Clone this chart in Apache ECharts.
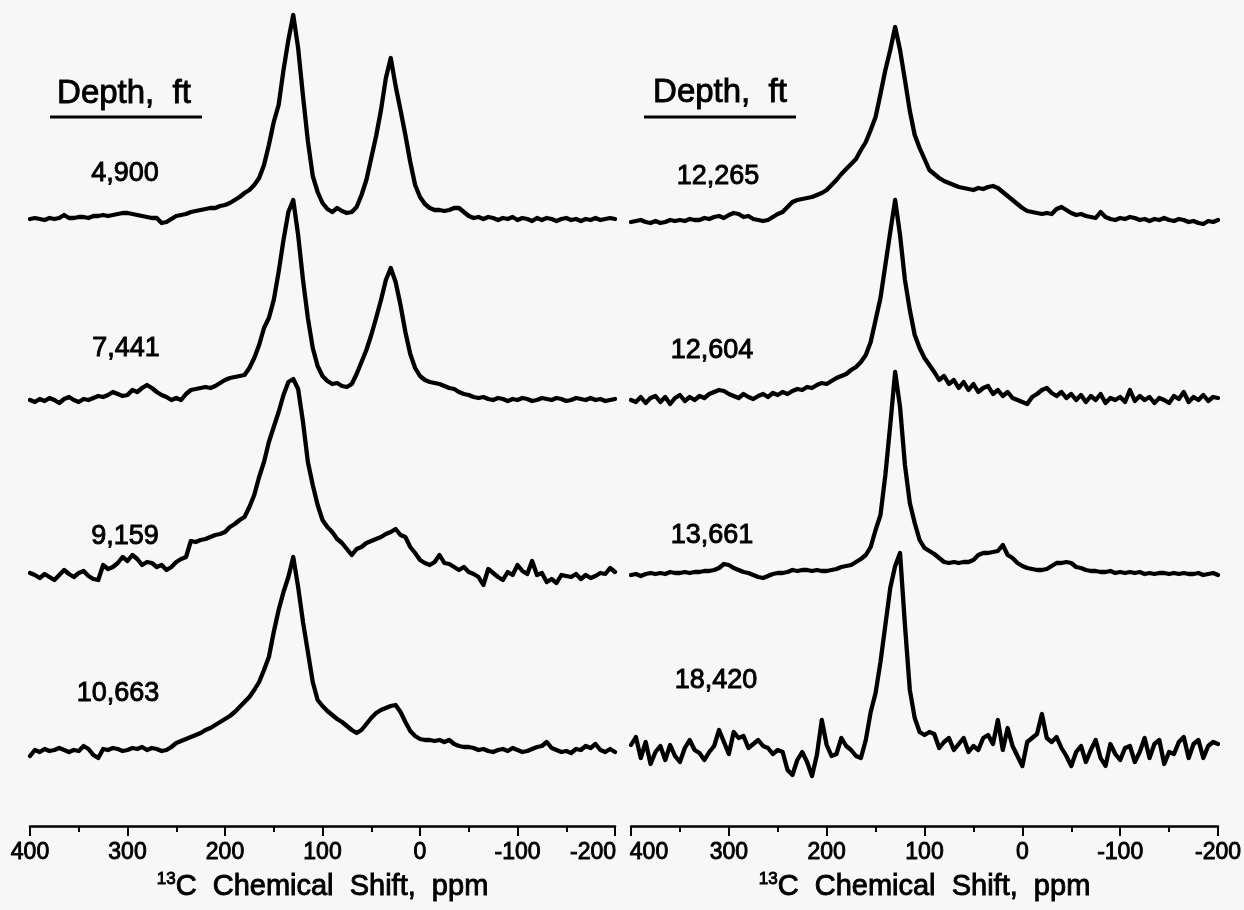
<!DOCTYPE html>
<html>
<head>
<meta charset="utf-8">
<title>13C NMR spectra vs depth</title>
<script src="https://cdn.jsdelivr.net/npm/echarts@6/dist/echarts.min.js"></script>
<style>
  html, body { margin: 0; padding: 0; background: #f7f7f7; }
  #chart { width: 1244px; height: 910px; }
</style>
</head>
<body>
<div id="chart"></div>
<script>
// Chemical shift sampling grid (ppm), 400 -> -200 in 5 ppm steps
const shifts = [];
for (let p = 400; p >= -200; p -= 5) shifts.push(p);

// Tick values on the shift axis
const shiftTicks = [400, 300, 200, 100, 0, -100, -200];

// Depth labels (ft) for each panel, top to bottom
const leftDepths = ['4,900', '7,441', '9,159', '10,663'];
const rightDepths = ['12,265', '12,604', '13,661', '18,420'];

// Signal intensity (a.u., above each trace's baseline) at every shift in `shifts`
const depth4900 = [
  1, 2, 1, 0, 2, 1, 2, 5, 2, 2,
  3, 3, 2, 4, 4, 5, 4, 5, 6, 7,
  7, 6, 5, 4, 3, 2, 2, -3, -2, 1,
  4, 5, 6, 8, 9, 10, 11, 12, 12, 14,
  15, 17, 20, 23, 27, 30, 35, 42, 55, 75,
  98, 115, 150, 180, 205, 172, 124, 79, 44, 28,
  17, 11, 8, 12, 9, 7, 8, 13, 25, 40,
  62, 84, 110, 142, 162, 134, 110, 85, 58, 35,
  23, 16, 12, 10, 10, 9, 10, 12, 12, 8,
  4, 2, 3, 1, 3, 2, 0, 2, 1, 3,
  0, 2, 1, -1, 2, 0, 2, 1, -1, 1,
  2, 0, 1, -1, 1, 0, 2, 0, 1, 2,
  1
];
const depth7441 = [
  0, -2, 1, -1, 2, 0, -3, 1, 3, 0,
  -2, 1, 0, 2, 4, 3, 5, 8, 6, 4,
  5, 10, 8, 12, 15, 12, 8, 5, 3, 0,
  2, 0, 6, 10, 11, 12, 13, 12, 14, 17,
  20, 22, 23, 24, 25, 32, 42, 55, 72, 82,
  100, 128, 160, 188, 200, 165, 120, 82, 52, 34,
  24, 19, 16, 17, 14, 13, 16, 26, 38, 50,
  65, 82, 100, 120, 132, 118, 95, 68, 46, 32,
  24, 20, 18, 17, 16, 14, 12, 11, 8, 6,
  5, 3, 2, 3, 1, 0, 2, 1, -1, 1,
  0, 2, 1, -1, 0, 2, 1, 0, 2, 1,
  -1, 0, 2, 1, 0, 2, 0, 1, -1, 0,
  1
];
const depth9159 = [
  4, 2, -1, 3, 0, -3, 2, 7, 3, 0,
  4, 6, 1, -2, -3, 12, 8, 10, 14, 20,
  16, 22, 18, 12, 15, 14, 10, 12, 7, 10,
  15, 18, 20, 36, 35, 37, 38, 40, 42, 43,
  45, 50, 53, 57, 60, 70, 82, 100, 115, 135,
  150, 165, 182, 195, 198, 188, 155, 115, 92, 72,
  57, 50, 45, 38, 34, 28, 22, 28, 30, 34,
  36, 38, 40, 43, 45, 48, 42, 40, 30, 24,
  17, 14, 12, 15, 22, 14, 13, 10, 7, 10,
  5, 3, 0, -8, 8, 4, 0, -3, 5, 2,
  12, 6, 3, 16, 2, 4, -5, -2, -6, 2,
  1, 0, 3, -2, 2, -1, 1, 4, 3, 9,
  5
];
const depth10663 = [
  -4, 2, 0, 3, 1, 2, 4, 2, 0, 2,
  1, 6, 3, -3, -6, 3, 2, 4, 3, 1,
  2, 4, 3, 5, 2, 4, 3, 1, 2, 5,
  9, 11, 13, 15, 17, 19, 22, 24, 27, 30,
  33, 36, 40, 45, 50, 55, 62, 70, 82, 95,
  120, 142, 160, 175, 195, 165, 130, 100, 70, 52,
  46, 41, 37, 33, 30, 26, 22, 19, 22, 28,
  34, 39, 42, 44, 46, 47, 40, 30, 21, 16,
  13, 12, 12, 11, 12, 10, 12, 8, 6, 5,
  5, 4, 2, 3, 1, 0, 2, 3, 1, 4,
  2, 0, 1, 3, 5, 6, 10, 4, 2, 0,
  1, -1, 3, 2, 6, 4, 8, 2, 0, 3,
  0
];
const depth12265 = [
  0, 1, 2, 0, -1, 1, -1, 0, 2, 1,
  2, 1, 3, 2, 2, 4, 3, 5, 6, 4,
  7, 9, 8, 5, 6, 3, 2, 1, 2, 5,
  8, 10, 15, 20, 22, 23, 24, 25, 27, 29,
  32, 37, 42, 48, 53, 58, 63, 72, 80, 92,
  105, 128, 152, 172, 195, 172, 142, 111, 87, 74,
  63, 52, 48, 44, 41, 39, 37, 35, 34, 33,
  32, 34, 33, 35, 36, 34, 30, 26, 22, 18,
  14, 11, 10, 9, 8, 9, 8, 13, 15, 12,
  9, 7, 8, 6, 5, 4, 10, 5, 3, 2,
  4, 3, 5, 4, 2, 3, 1, 3, 2, 4,
  2, 1, 3, 2, 0, 1, -1, -2, 1, 0,
  2
];
const depth12604 = [
  0, -2, 3, -3, 2, 4, -2, 3, -4, 2,
  5, -1, 3, 0, 4, 2, 6, 8, 10, 9,
  6, 4, 2, 6, 3, 1, 4, 6, 3, 7,
  5, 8, 6, 9, 11, 10, 13, 12, 15, 17,
  16, 19, 22, 24, 26, 30, 33, 38, 45, 58,
  80, 102, 135, 168, 200, 165, 120, 90, 65, 52,
  42, 35, 28, 20, 24, 16, 20, 12, 18, 10,
  16, 8, 12, 14, 6, 10, 4, 8, 2, 0,
  -2, -4, 3, 6, 10, 12, 7, 4, 8, 2,
  6, 0, 5, -2, 4, 0, 6, -3, 2, 0,
  3, -2, 10, -1, 4, 0, 3, -3, 2, 0,
  -3, 4, 1, 8, -2, 3, 0, 5, -1, 3,
  2
];
const depth13661 = [
  0, 1, -1, 1, 2, 1, 2, 1, 3, 2,
  2, 3, 2, 3, 3, 4, 4, 5, 7, 11,
  10, 7, 5, 3, 2, 0, -2, -3, -1, 1,
  2, 2, 3, 5, 4, 5, 5, 4, 5, 4,
  4, 5, 6, 8, 9, 10, 13, 16, 20, 28,
  45, 60, 100, 150, 203, 168, 110, 72, 52, 35,
  27, 24, 21, 17, 13, 12, 13, 12, 13, 13,
  15, 20, 22, 22, 23, 24, 30, 20, 17, 12,
  9, 7, 6, 5, 5, 6, 9, 12, 12, 13,
  12, 8, 7, 5, 4, 4, 3, 3, 4, 2,
  3, 2, 3, 2, 3, 1, 2, 1, 2, 2,
  1, 2, 1, 2, 1, 1, 2, 0, 1, 2,
  0
];
const depth18420 = [
  5, 13, -8, 8, -14, -2, 4, -10, 5, -6,
  -12, 2, 10, 0, -3, -10, -2, 4, 20, 8,
  -4, 18, 12, 14, 2, 6, 10, 4, 2, -4,
  0, -2, -20, -25, -10, -2, -12, -26, -5, 30,
  5, -6, -4, 12, 4, 0, -6, -8, 10, 38,
  57, 88, 125, 162, 184, 197, 125, 60, 32, 18,
  15, 18, 16, 2, 8, 12, 0, 6, 12, -2,
  4, 0, 12, 15, 6, 30, 0, 22, 4, -6,
  -16, 8, 12, 16, 36, 12, 8, 13, 2, -6,
  -16, -2, 4, -12, 0, 10, -8, -16, 6, -4,
  -10, 2, 4, -12, -2, 12, -8, 6, 10, -14,
  -2, -4, 8, 13, -8, 6, 10, -8, 4, 8,
  6
];

const leftSpectra = [depth4900, depth7441, depth9159, depth10663];
const rightSpectra = [depth12265, depth12604, depth13661, depth18420];

// ---- layout (plot units = px above the shift axis) ----
const PLOT_H = 826;
const leftOffsets = [606, 426, 249, 74];
const rightOffsets = [604, 426, 251, 76];
const leftLabelPos = [[125, 174], [126, 349], [125, 537], [118, 694]];
const rightLabelPos = [[718, 177], [712, 351], [712, 536], [716, 681]];

const FONT = '"Liberation Sans", Arial, Helvetica, sans-serif';
const INK = '#000';
// thin outline to give the type its heavy printed look
const HEAVY = { textBorderColor: INK, textBorderWidth: 0.9 };
const TICK_FONT = Object.assign({ fontFamily: FONT, fontSize: 23, color: INK }, HEAVY);

// Where the two panels meet, the inner end labels sit beside their tick
// (rich padding pushes the centred text off to one side).
function makeXAxis(gridIndex, edgeValue, edgeSide) {
  return {
    gridIndex,
    type: 'value',
    min: -200,
    max: 400,
    interval: 100,
    inverse: true,
    axisLine: { onZero: false, lineStyle: { color: INK, width: 2.5 } },
    axisTick: { length: 10, lineStyle: { color: INK, width: 2 } },
    minorTick: { show: true, splitNumber: 2, length: 6, lineStyle: { color: INK, width: 2 } },
    splitLine: { show: false },
    axisLabel: Object.assign({
      margin: 15,
      customValues: shiftTicks,
      formatter: v => (v === edgeValue ? '{' + edgeSide + '|' + v + '}' : String(v)),
      rich: {
        toLeft: Object.assign({ padding: [0, 44, 0, 0] }, TICK_FONT),
        toRight: Object.assign({ padding: [0, 0, 0, 36] }, TICK_FONT)
      }
    }, TICK_FONT),
    name: '{sup|13}{base|C  Chemical  Shift,  ppm}',
    nameLocation: 'middle',
    nameGap: 45,
    nameTextStyle: {
      rich: {
        sup: Object.assign({ fontFamily: FONT, fontSize: 17, color: INK, verticalAlign: 'top', lineHeight: 15 }, HEAVY),
        base: Object.assign({ fontFamily: FONT, fontSize: 29, color: INK, lineHeight: 31 }, HEAVY)
      }
    }
  };
}

function makeYAxis(gridIndex) {
  return { gridIndex, type: 'value', min: 0, max: PLOT_H, show: false };
}

function makeSeries(spectra, offsets, names, axisIndex) {
  return spectra.map((vals, k) => ({
    name: names[k],
    type: 'line',
    xAxisIndex: axisIndex,
    yAxisIndex: axisIndex,
    data: shifts.map((p, i) => [p, offsets[k] + vals[i]]),
    showSymbol: false,
    symbol: 'none',
    clip: false,
    lineStyle: { color: INK, width: 4.3, join: 'round', cap: 'round' },
    emphasis: { disabled: true },
    animation: false
  }));
}

function depthText(text, pos, size) {
  return {
    type: 'text', x: pos[0], y: pos[1], silent: true,
    style: {
      text, fill: INK, font: size + 'px ' + FONT,
      stroke: INK, lineWidth: 0.9,
      align: 'center', verticalAlign: 'middle'
    }
  };
}

const graphics = [
  depthText('Depth,  ft', [124, 94], 33),
  { type: 'line', silent: true, shape: { x1: 50, y1: 117, x2: 202, y2: 117 }, style: { stroke: INK, lineWidth: 2.8 } },
  depthText('Depth,  ft', [720, 93], 33),
  { type: 'line', silent: true, shape: { x1: 644, y1: 117, x2: 796, y2: 117 }, style: { stroke: INK, lineWidth: 2.8 } }
];
leftDepths.forEach((d, k) => graphics.push(depthText(d, leftLabelPos[k], 27)));
rightDepths.forEach((d, k) => graphics.push(depthText(d, rightLabelPos[k], 27)));

const gridBase = { top: 0, height: PLOT_H, containLabel: false, outerBoundsMode: 'none' };

const chart = echarts.init(document.getElementById('chart'), null, { renderer: 'canvas' });
chart.setOption({
  backgroundColor: '#f7f7f7',
  animation: false,
  grid: [
    Object.assign({ left: 30, width: 585 }, gridBase),
    Object.assign({ left: 631, width: 587 }, gridBase)
  ],
  xAxis: [makeXAxis(0, -200, 'toLeft'), makeXAxis(1, 400, 'toRight')],
  yAxis: [makeYAxis(0), makeYAxis(1)],
  series: [
    ...makeSeries(leftSpectra, leftOffsets, leftDepths, 0),
    ...makeSeries(rightSpectra, rightOffsets, rightDepths, 1)
  ],
  graphic: graphics
});
</script>
</body>
</html>
